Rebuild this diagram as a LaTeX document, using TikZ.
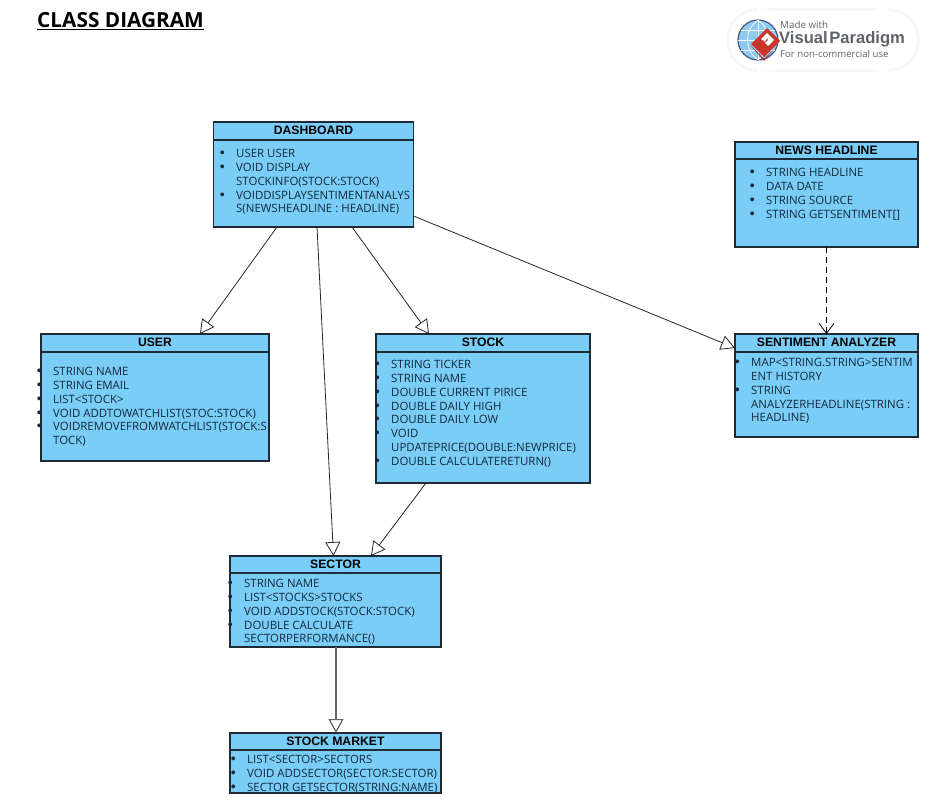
\documentclass[tikz,border=0pt]{standalone}
\usepackage{fontspec}
\setmainfont{Open Sans}
\newfontfamily\headfont{Liberation Sans}
\usetikzlibrary{arrows.meta}
\definecolor{boxblue}{HTML}{79CDF7}
\definecolor{boxline}{HTML}{1E2A35}
\definecolor{textdark}{HTML}{14283A}
\definecolor{logogray}{HTML}{5F6368}
\definecolor{logored}{HTML}{C8352B}
\definecolor{logoblue}{HTML}{8CCBEF}
\newcommand{\blt}{\leavevmode\llap{{\headfont\fontsize{14}{14}\selectfont\textbullet}\hspace{11.5pt}}}
\tikzset{
  classhead/.style={draw=boxline,fill=boxblue,line width=1.1pt,anchor=north west,inner sep=0pt,outer sep=0pt,font=\headfont\bfseries\fontsize{12.2}{13}\selectfont,text=black},
  classbody/.style={draw=boxline,fill=boxblue,line width=1.1pt,anchor=north west,inner sep=0pt,outer sep=0pt},
  classtext/.style={anchor=north west,inner sep=0pt,align=left,text=textdark,font=\fontsize{11.45}{13.75}\selectfont},
  inherit/.style={draw=black!85,line width=0.8pt,-{Triangle[open,length=14pt,width=15pt]}},
  depend/.style={draw=black,line width=0.8pt,dash pattern=on 6pt off 4pt,-{Straight Barb[length=10pt,width=15pt]}}
}
\begin{document}
\begin{tikzpicture}[x=1pt,y=-1pt]
\useasboundingbox (0,0) rectangle (927,806);
% title
\node[anchor=north west,inner sep=0pt,font=\bfseries\fontsize{20.8}{24}\selectfont] (title) at (37,12) {\underline{CLASS DIAGRAM}};
% logo
\fill[black!3] (758,8) rectangle (888,72) (758,40) circle (32) (888,40) circle (32);
\fill[white] (758,11) rectangle (888,69) (758,40) circle (29) (888,40) circle (29);
\fill[logoblue] (758,40) circle (20);
\draw[logogray!80!blue,line width=1.2pt] (758,40) circle (20);
\draw[white,line width=0.7pt] (738,40) -- (778,40) (758,20) -- (758,60) (741,30) -- (775,30) (741,50) -- (775,50);
\draw[white,line width=0.7pt] (758,20) .. controls (744,30) and (744,50) .. (758,60);
\draw[white,line width=0.7pt] (758,20) .. controls (772,30) and (772,50) .. (758,60);
\fill[logored] (767,28) -- (780,41) -- (764,57) -- (751,44) -- cycle;
\fill[logored!85!black] (751,46) -- (764,59) -- (773,50) -- (764,61) -- cycle;
\fill[white] (761,39) -- (767,33) -- (774,40) -- (768,46) -- (765,43) -- (768,40) -- (767,38) -- (765,42) -- cycle;
\node[anchor=west,inner sep=0pt,text=logogray,font=\fontsize{9.8}{11}\selectfont] (logomade) at (780,25) {Made with};
\node[anchor=west,inner sep=0pt,text=logogray,font=\headfont\bfseries\fontsize{16.6}{18}\selectfont] (logoname) at (779,39.5) {Visual\hspace{1.5pt}Paradigm};
\node[anchor=west,inner sep=0pt,text=logogray,font=\fontsize{9.6}{11}\selectfont] (logouse) at (780,54) {For non-commercial use};
% dashboard
\node[classbody,minimum width=200pt,minimum height=87pt] (dashboardbody) at (213.5,140) {};
\node[classhead,minimum width=200pt,minimum height=18pt] (dashboardhead) at (213.5,122) {\raisebox{1.5pt}{DASHBOARD}};
\node[classtext] (dashboardtext) at (236,149.5) {\blt USER USER\\\blt VOID DISPLAY\\STOCKINFO(STOCK:STOCK)\\\blt VOIDDISPLAYSENTIMENTANALYS\\S(NEWSHEADLINE : HEADLINE)};
% news headline
\node[classbody,minimum width=183pt,minimum height=88pt] (newsbody) at (735,159) {};
\node[classhead,minimum width=183pt,minimum height=17pt] (newshead) at (735,142) {\raisebox{1.5pt}{NEWS HEADLINE}};
\node[classtext] (newstext) at (766,168.5) {\blt STRING HEADLINE\\\blt DATA DATE\\\blt STRING SOURCE\\\blt STRING GETSENTIMENT[]};
% user
\node[classbody,minimum width=228pt,minimum height=109pt] (userbody) at (41,352) {};
\node[classhead,minimum width=228pt,minimum height=18pt] (userhead) at (41,334) {\raisebox{1.5pt}{USER}};
\node[classtext] (usertext) at (53,367.5) {\blt STRING NAME\\\blt STRING EMAIL\\\blt LIST<STOCK>\\\blt VOID ADDTOWATCHLIST(STOC:STOCK)\\\blt VOIDREMOVEFROMWATCHLIST(STOCK:S\\TOCK)};
% stock
\node[classbody,minimum width=214pt,minimum height=131pt] (stockbody) at (376,352) {};
\node[classhead,minimum width=214pt,minimum height=18pt] (stockhead) at (376,334) {\raisebox{1.5pt}{STOCK}};
\node[classtext] (stocktext) at (391,360.5) {\blt STRING TICKER\\\blt STRING NAME\\\blt DOUBLE CURRENT PIRICE\\\blt DOUBLE DAILY HIGH\\\blt DOUBLE DAILY LOW\\\blt VOID\\UPDATEPRICE(DOUBLE:NEWPRICE)\\\blt DOUBLE CALCULATERETURN()};
% sentiment analyzer
\node[classbody,minimum width=183pt,minimum height=85pt] (sentimentbody) at (735,352) {};
\node[classhead,minimum width=183pt,minimum height=18pt] (sentimenthead) at (735,334) {\raisebox{1.5pt}{SENTIMENT ANALYZER}};
\node[classtext] (sentimenttext) at (751,358.5) {\blt MAP<STRING.STRING>SENTIM\\ENT HISTORY\\\blt STRING\\ANALYZERHEADLINE(STRING :\\HEADLINE)};
% sector
\node[classbody,minimum width=211pt,minimum height=74pt] (sectorbody) at (230,573) {};
\node[classhead,minimum width=211pt,minimum height=17pt] (sectorhead) at (230,556) {\raisebox{1.5pt}{SECTOR}};
\node[classtext] (sectortext) at (244,579.5) {\blt STRING NAME\\\blt LIST<STOCKS>STOCKS\\\blt VOID ADDSTOCK(STOCK:STOCK)\\\blt DOUBLE CALCULATE\\SECTORPERFORMANCE()};
% stock market
\node[classbody,minimum width=211pt,minimum height=43pt] (marketbody) at (230,750) {};
\node[classhead,minimum width=211pt,minimum height=17pt] (markethead) at (230,733) {\raisebox{1.5pt}{STOCK MARKET}};
\node[classtext] (markettext) at (247,755) {\blt LIST<SECTOR>SECTORS\\\blt VOID ADDSECTOR(SECTOR:SECTOR)\\\blt SECTOR GETSECTOR(STRING:NAME)};
% connectors
\draw[inherit] ([xshift=63.5pt]dashboardbody.south west) -- ([xshift=159pt]userhead.north west);
\draw[inherit] ([xshift=103.5pt]dashboardbody.south west) -- ([xshift=103.5pt]sectorhead.north west);
\draw[inherit] ([xshift=138.5pt]dashboardbody.south west) -- ([xshift=53pt]stockhead.north west);
\draw[inherit] ([yshift=11pt]dashboardbody.south east) -- ([yshift=-5pt]sentimenthead.west);
\draw[inherit] ([xshift=50pt]stockbody.south west) -- ([xshift=141pt]sectorhead.north west);
\draw[inherit,draw=black!60,line width=1.2pt] ([xshift=106pt]sectorbody.south west) -- ([xshift=106pt]markethead.north west);
\draw[depend] (newsbody.south) -- (sentimenthead.north);
\end{tikzpicture}
\end{document}
